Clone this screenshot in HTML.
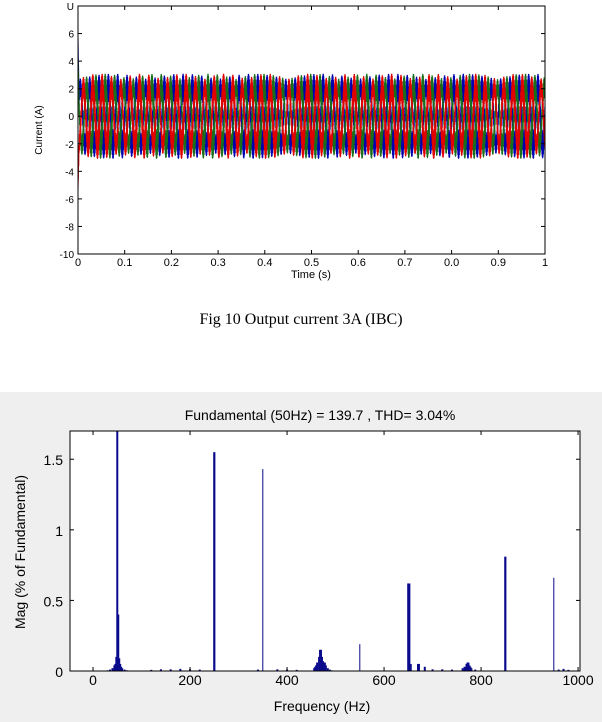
<!DOCTYPE html>
<html><head><meta charset="utf-8"><style>
body{margin:0;width:602px;height:722px;background:#fff;overflow:hidden;position:relative;font-family:"Liberation Sans",sans-serif}
#cap{position:absolute;left:0;width:602px;top:311px;text-align:center;font-family:"Liberation Serif",serif;font-size:16px;color:#000}
#bg2{position:absolute;left:0;top:392px;width:602px;height:330px;background:#efefef}
svg{position:absolute;left:0;top:0}
</style></head><body>
<div id="bg2"></div>
<div id="cap">Fig 10 Output current 3A (IBC)</div>
<svg id="s" width="602" height="722"></svg>
<script>
// ---- top chart data ----
const phaseColors=["#0000b0","#1a6e1a","#e00000"];
const phaseAmps=[2.1,2.1,2.1];
const phaseShiftsDeg=[0,120,240];
const rippleAmps=[1.0,1.0,1.0];
const fundamentalHz=50;
const startSpike=[5.8,4.3,-5.4];
const topYTicks=[8,6,4,2,0,-2,-4,-6,-8,-10];
const topYTickLabels=["U","6","4","2","0","-2","-4","-6","-8","-10"];
const topXTicks=[0,0.1,0.2,0.3,0.4,0.5,0.6,0.7,0.8,0.9,1];
const topXTickLabels=["0","0.1","0.2","0.3","0.4","0.5","0.6","0.7","0.0","0.9","1"];
// ---- FFT chart data ----
const fftFreqs=[50,52,48,54,46,56,44,58,40,60,35,65,30,70,250,350,550,650,652,655,850,950,
 466,468,470,472,474,476,478,480,462,460,458,456,484,488,492,
 670,672,684,770,772,774,776,778,766,762,780,788,
 120,160,180,200,220,140,380,400,420,340,700,720,740,960,970,980];
const fftMags=[1.70,0.40,0.10,0.09,0.05,0.05,0.04,0.03,0.02,0.02,0.01,0.01,0.005,0.005,1.55,1.43,0.19,0.62,0.62,0.05,0.81,0.66,
 0.10,0.15,0.15,0.10,0.07,0.06,0.06,0.04,0.06,0.04,0.03,0.02,0.02,0.01,0.005,
 0.05,0.05,0.03,0.05,0.06,0.06,0.04,0.03,0.03,0.02,0.02,0.01,
 0.008,0.012,0.015,0.012,0.01,0.012,0.012,0.01,0.008,0.01,0.012,0.012,0.01,0.01,0.015,0.008];
const fftXTicks=[0,200,400,600,800,1000];
const fftYTicks=[0,0.5,1,1.5];
const fftYTickLabels=["0","0.5","1","1.5"];

const s=document.getElementById('s');const NS="http://www.w3.org/2000/svg";
function mk(t,a,txt){const e=document.createElementNS(NS,t);for(const k in a)e.setAttribute(k,a[k]);if(txt!==undefined)e.textContent=txt;s.appendChild(e);return e;}

// top axes
const T={l:78,r:545,t:6,b:254,x0:0,x1:1,y0:-10,y1:8};
const tx=v=>T.l+(v-T.x0)/(T.x1-T.x0)*(T.r-T.l);
const ty=v=>T.b-(v-T.y0)/(T.y1-T.y0)*(T.b-T.t);
for(let p=0;p<3;p++){
  let d="";const N=2400;
  for(let i=0;i<=N;i++){const t=i/N;
    let v=phaseAmps[p]*Math.sin(2*Math.PI*fundamentalHz*t+phaseShiftsDeg[p]*Math.PI/180)+(i%2?1:-1)*rippleAmps[p]*(0.6+0.4*Math.abs(Math.sin(7*t*(p+3))));
    if(i<6)v=startSpike[p]*(1-i/6)+v*(i/6);
    d+=(i?"L":"M")+tx(t).toFixed(2)+" "+ty(v).toFixed(2);}
  const e=mk('path',{d:d,fill:'none',stroke:phaseColors[p],'stroke-width':1});
  
  
}
mk('rect',{x:T.l,y:T.t,width:T.r-T.l,height:T.b-T.t,fill:'none',stroke:'#000','stroke-width':1,});
topYTicks.forEach((v,i)=>{const y=ty(v);
  mk('line',{x1:T.l,x2:T.l+4,y1:y,y2:y,stroke:'#000'});mk('line',{x1:T.r-4,x2:T.r,y1:y,y2:y,stroke:'#000'});
  const e=mk('text',{x:T.l-4,y:y+4,'text-anchor':'end','font-size':10,fill:'#000'},topYTickLabels[i]);
  });
topXTicks.forEach((v,i)=>{const x=tx(v);
  mk('line',{x1:x,x2:x,y1:T.b,y2:T.b-4,stroke:'#000'});mk('line',{x1:x,x2:x,y1:T.t,y2:T.t+4,stroke:'#000'});
  const e=mk('text',{x:x,y:T.b+12,'text-anchor':'middle','font-size':11,fill:'#000'},topXTickLabels[i]);
  });
mk('text',{x:311,y:278,'text-anchor':'middle','font-size':11,fill:'#000',},'Time (s)');
mk('text',{x:0,y:0,transform:'translate(42,130) rotate(-90)','text-anchor':'middle','font-size':10,fill:'#000',},'Current (A)');

// FFT axes
const F={l:70,r:580,t:431,b:671,x0:-47.5,x1:1004,y0:0,y1:1.70};
const fx=v=>F.l+(v-F.x0)/(F.x1-F.x0)*(F.r-F.l);
const fy=v=>F.b-(v-F.y0)/(F.y1-F.y0)*(F.b-F.t);
mk('rect',{x:F.l,y:F.t,width:F.r-F.l,height:F.b-F.t,fill:'#fff',});
fftFreqs.forEach((f,i)=>{const w=(f===250||f===650||f===652||f===850)?2.2:(f===350||f===550||f===950?1:2);
  const y=fy(Math.min(fftMags[i],F.y1));
  const e=mk('rect',{x:fx(f)-w/2,y:y,width:w,height:F.b-y,fill:'#0a0a8c'});
  });
mk('rect',{x:F.l,y:F.t,width:F.r-F.l,height:F.b-F.t,fill:'none',stroke:'#000','stroke-width':1,});
fftXTicks.forEach(v=>{const x=fx(v);
  mk('line',{x1:x,x2:x,y1:F.b,y2:F.b-4,stroke:'#000'});mk('line',{x1:x,x2:x,y1:F.t,y2:F.t+4,stroke:'#000'});
  const e=mk('text',{x:x,y:F.b+14,'text-anchor':'middle','font-size':14,fill:'#000'},String(v));
  });
fftYTicks.forEach((v,i)=>{const y=fy(v);
  mk('line',{x1:F.l,x2:F.l+4,y1:y,y2:y,stroke:'#000'});mk('line',{x1:F.r-4,x2:F.r,y1:y,y2:y,stroke:'#000'});
  const e=mk('text',{x:F.l-7,y:y+6,'text-anchor':'end','font-size':14,fill:'#000'},fftYTickLabels[i]);
  });
mk('text',{x:320,y:420,'text-anchor':'middle','font-size':14,fill:'#000',},'Fundamental (50Hz) = 139.7 , THD= 3.04%');
mk('text',{x:322,y:711,'text-anchor':'middle','font-size':14,fill:'#000',},'Frequency (Hz)');
mk('text',{x:0,y:0,transform:'translate(25,552) rotate(-90)','text-anchor':'middle','font-size':14,fill:'#000',},'Mag (% of Fundamental)');
</script>
</body></html>
